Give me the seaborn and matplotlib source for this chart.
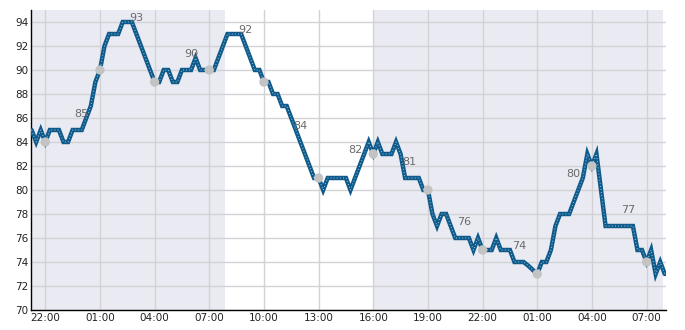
import numpy as np
import pandas as pd
import matplotlib
matplotlib.use("Agg")
import matplotlib.pyplot as plt
import matplotlib.dates as mdates
from matplotlib.ticker import MultipleLocator
import seaborn as sns

# ---------------- data ----------------
series_start = "2024-06-01 21:15"
series_step = "15min"
# temperature every 15 minutes (grouped by hour)
temperature = [
    85,                     # 21:15
    84, 85,                 # 21:30 21:45
    84, 85, 85, 85,         # 22:00
    84, 84, 85, 85,         # 23:00
    85, 86, 87, 89,         # 00:00
    90, 92, 93, 93,         # 01:00
    93, 94, 94, 94,         # 02:00
    93, 92, 91, 90,         # 03:00
    89, 89, 90, 90,         # 04:00
    89, 89, 90, 90,         # 05:00
    90, 91, 90, 90,         # 06:00
    90, 90, 91, 92,         # 07:00
    93, 93, 93, 93,         # 08:00
    92, 91, 90, 90,         # 09:00
    89, 89, 88, 88,         # 10:00
    87, 87, 86, 85,         # 11:00
    84, 83, 82, 81,         # 12:00
    81, 80, 81, 81,         # 13:00
    81, 81, 81, 80,         # 14:00
    81, 82, 83, 84,         # 15:00
    83, 84, 83, 83,         # 16:00
    83, 84, 83, 81,         # 17:00
    81, 81, 81, 80,         # 18:00
    80, 78, 77, 78,         # 19:00
    78, 77, 76, 76,         # 20:00
    76, 76, 75, 76,         # 21:00
    75, 75, 75, 76,         # 22:00
    75, 75, 75, 74,         # 23:00
    74, 74, 73.7, 73.35,    # 00:00
    73, 74, 74, 75,         # 01:00
    77, 78, 78, 78,         # 02:00
    79, 80, 81, 83,         # 03:00
    82, 83, 80, 77,         # 04:00
    77, 77, 77, 77,         # 05:00
    77, 77, 75, 75,         # 06:00
    74, 75, 73, 74,         # 07:00
    73,                     # 08:00
]

obs_times = ["2024-06-01 22:00", "2024-06-02 01:00", "2024-06-02 04:00",
             "2024-06-02 07:00", "2024-06-02 10:00", "2024-06-02 13:00",
             "2024-06-02 16:00", "2024-06-02 19:00", "2024-06-02 22:00",
             "2024-06-03 01:00", "2024-06-03 04:00", "2024-06-03 07:00"]
obs_values = [84, 90, 89, 90, 89, 81, 83, 80, 75, 73, 82, 74]

label_times = ["2024-06-02 00:00", "2024-06-02 03:00", "2024-06-02 06:00",
               "2024-06-02 09:00", "2024-06-02 12:00", "2024-06-02 15:00",
               "2024-06-02 18:00", "2024-06-02 21:00", "2024-06-03 00:00",
               "2024-06-03 03:00", "2024-06-03 06:00"]
label_values = [85, 93, 90, 92, 84, 82, 81, 76, 74, 80, 77]

shade_spans = [("2024-06-01 21:10", "2024-06-02 07:52"),
               ("2024-06-02 16:00", "2024-06-03 07:55")]

x_range = ("2024-06-01 21:13", "2024-06-03 08:04")
y_range = (70, 95)

# ---------------- figure ----------------
sns.set_theme(style="white")
plt.rcParams["font.family"] = ["DejaVu Sans"]

times = pd.date_range(series_start, periods=len(temperature), freq=series_step)
df = pd.DataFrame({"time": times, "temp": temperature})
obs = pd.DataFrame({"time": pd.to_datetime(obs_times), "temp": obs_values})

fig = plt.figure(figsize=(6.85, 3.30), dpi=100)
ax = fig.add_axes([31 / 685, 1 - 310 / 330, (666 - 31) / 685, 300 / 330])
ax.set_facecolor("white")

for a, b in shade_spans:
    ax.axvspan(pd.Timestamp(a), pd.Timestamp(b), color="#eaeaf2", zorder=0, lw=0)

line_color = "#0d5a8b"
sns.lineplot(data=df, x="time", y="temp", ax=ax, color=line_color,
             lw=3.2, zorder=3, solid_joinstyle="miter")
sns.lineplot(data=df, x="time", y="temp", ax=ax, color="#a9c8de",
             lw=0.7, linestyle=(0, (1, 2.2)), zorder=4)
sns.scatterplot(data=obs, x="time", y="temp", ax=ax, color="#c3c3c3",
                s=45, edgecolor="none", zorder=5)

for t, v in zip(label_times, label_values):
    ax.text(pd.Timestamp(t), v + 1.35, str(v), ha="center", va="center",
            fontsize=8, color="#6a6a6a", zorder=6)

ax.set_xlim(pd.Timestamp(x_range[0]), pd.Timestamp(x_range[1]))
ax.set_ylim(*y_range)
ax.yaxis.set_major_locator(MultipleLocator(2))
ax.yaxis.set_minor_locator(MultipleLocator(1))
ax.xaxis.set_major_locator(mdates.HourLocator(byhour=[1, 4, 7, 10, 13, 16, 19, 22]))
ax.xaxis.set_major_formatter(mdates.DateFormatter("%H:%M"))

ax.grid(True, which="major", color="#d2d2d6", lw=1.0, zorder=1)
ax.set_axisbelow(True)
ax.tick_params(axis="both", which="both", direction="in", length=4, width=1,
               color="black", labelsize=7.5, labelcolor="#222222", pad=2)
ax.tick_params(axis="y", which="minor", length=4)
ax.tick_params(axis="x", which="minor", length=0)
ax.set_xlabel("")
ax.set_ylabel("")
for s in ["top", "right"]:
    ax.spines[s].set_visible(False)
for s in ["left", "bottom"]:
    ax.spines[s].set_color("black")
    ax.spines[s].set_linewidth(1)
legend = ax.get_legend()
if legend:
    legend.remove()

fig.savefig("out.png", dpi=100, facecolor="white")
